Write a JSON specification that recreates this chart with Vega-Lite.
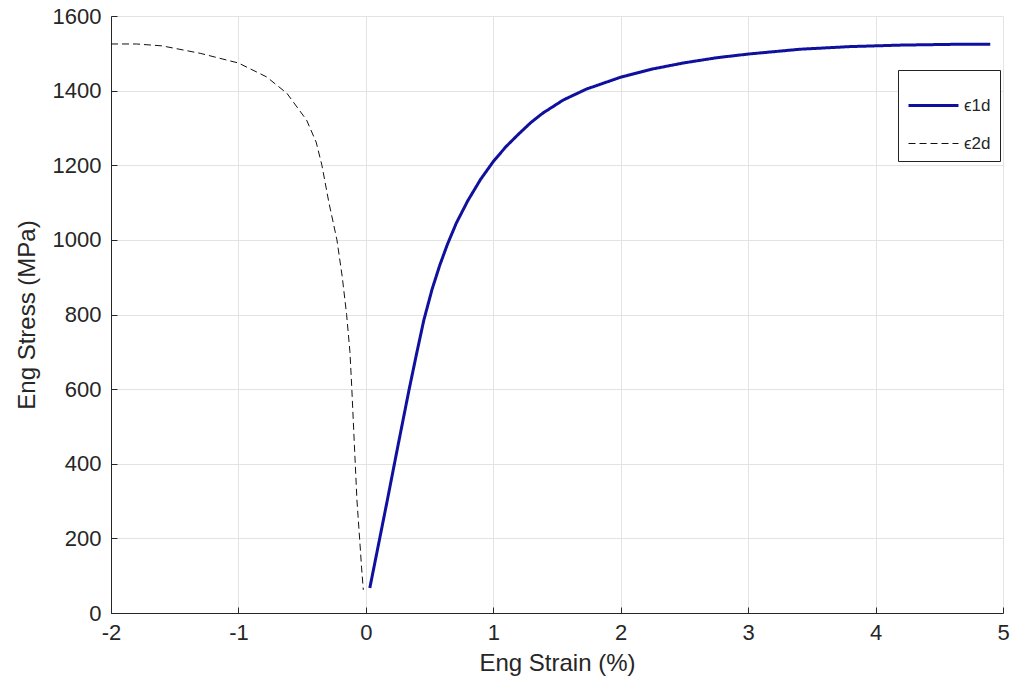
{
  "$schema": "https://vega.github.io/schema/vega-lite/v6.json",
  "width": 892,
  "height": 597,
  "autosize": {"type": "none"},
  "padding": {"left": 111, "top": 16, "right": 11, "bottom": 77},
  "background": "white",
  "config": {
    "view": {"stroke": null},
    "font": "Liberation Sans",
    "axis": {
      "labelFont": "Liberation Sans",
      "titleFont": "Liberation Sans",
      "labelFontSize": 22,
      "titleFontSize": 24,
      "titleFontWeight": "normal",
      "labelColor": "#262626",
      "titleColor": "#262626",
      "domainColor": "#262626",
      "tickColor": "#262626",
      "gridColor": "#e3e3e3",
      "gridWidth": 1,
      "tickSize": -6,
      "domainWidth": 1,
      "labelExpr": "datum.value + ''"
    },
    "legend": {
      "orient": "none", "legendX": 787, "legendY": 54,
      "title": null, "strokeColor": "#222222", "fillColor": "white",
      "padding": 9, "symbolType": "stroke", "symbolSize": 2500,
      "labelFontSize": 17, "labelFont": "Liberation Sans", "labelColor": "#262626",
      "rowPadding": 4, "symbolOffset": 0
    }
  },
  "data": {
    "values": [
      {"s": "\u03f51d", "x": 0.031, "y": 67},
      {"s": "\u03f51d", "x": 0.10, "y": 185},
      {"s": "\u03f51d", "x": 0.17, "y": 305},
      {"s": "\u03f51d", "x": 0.25, "y": 445},
      {"s": "\u03f51d", "x": 0.34, "y": 600},
      {"s": "\u03f51d", "x": 0.40, "y": 698},
      {"s": "\u03f51d", "x": 0.455, "y": 785},
      {"s": "\u03f51d", "x": 0.52, "y": 868},
      {"s": "\u03f51d", "x": 0.58, "y": 932},
      {"s": "\u03f51d", "x": 0.64, "y": 988},
      {"s": "\u03f51d", "x": 0.71, "y": 1045},
      {"s": "\u03f51d", "x": 0.80, "y": 1105},
      {"s": "\u03f51d", "x": 0.90, "y": 1162},
      {"s": "\u03f51d", "x": 1.0, "y": 1210},
      {"s": "\u03f51d", "x": 1.1, "y": 1250},
      {"s": "\u03f51d", "x": 1.2, "y": 1284},
      {"s": "\u03f51d", "x": 1.3, "y": 1316},
      {"s": "\u03f51d", "x": 1.39, "y": 1340},
      {"s": "\u03f51d", "x": 1.55, "y": 1375},
      {"s": "\u03f51d", "x": 1.73, "y": 1404},
      {"s": "\u03f51d", "x": 2.0, "y": 1436},
      {"s": "\u03f51d", "x": 2.25, "y": 1458},
      {"s": "\u03f51d", "x": 2.49, "y": 1474},
      {"s": "\u03f51d", "x": 2.75, "y": 1488},
      {"s": "\u03f51d", "x": 3.0, "y": 1498},
      {"s": "\u03f51d", "x": 3.41, "y": 1511},
      {"s": "\u03f51d", "x": 3.8, "y": 1518},
      {"s": "\u03f51d", "x": 4.2, "y": 1522},
      {"s": "\u03f51d", "x": 4.6, "y": 1524},
      {"s": "\u03f51d", "x": 4.9, "y": 1524},
      {"s": "\u03f52d", "x": -2.0, "y": 1525},
      {"s": "\u03f52d", "x": -1.8, "y": 1525},
      {"s": "\u03f52d", "x": -1.6, "y": 1520},
      {"s": "\u03f52d", "x": -1.3, "y": 1500},
      {"s": "\u03f52d", "x": -1.0, "y": 1474},
      {"s": "\u03f52d", "x": -0.78, "y": 1437},
      {"s": "\u03f52d", "x": -0.62, "y": 1393},
      {"s": "\u03f52d", "x": -0.465, "y": 1321},
      {"s": "\u03f52d", "x": -0.39, "y": 1262},
      {"s": "\u03f52d", "x": -0.345, "y": 1200},
      {"s": "\u03f52d", "x": -0.29, "y": 1100},
      {"s": "\u03f52d", "x": -0.227, "y": 1000},
      {"s": "\u03f52d", "x": -0.185, "y": 900},
      {"s": "\u03f52d", "x": -0.151, "y": 800},
      {"s": "\u03f52d", "x": -0.125, "y": 700},
      {"s": "\u03f52d", "x": -0.11, "y": 600},
      {"s": "\u03f52d", "x": -0.09, "y": 450},
      {"s": "\u03f52d", "x": -0.07, "y": 303},
      {"s": "\u03f52d", "x": -0.045, "y": 180},
      {"s": "\u03f52d", "x": -0.034, "y": 123},
      {"s": "\u03f52d", "x": -0.02, "y": 62}
    ]
  },
  "mark": {"type": "line", "clip": true},
  "encoding": {
    "x": {
      "field": "x", "type": "quantitative",
      "scale": {"domain": [-2, 5], "nice": false, "zero": false},
      "axis": {"values": [-2, -1, 0, 1, 2, 3, 4, 5], "title": "Eng Strain (%)", "labelPadding": 15, "titleY": 38, "labelFlush": false}
    },
    "y": {
      "field": "y", "type": "quantitative",
      "scale": {"domain": [0, 1600], "nice": false},
      "axis": {"values": [0, 200, 400, 600, 800, 1000, 1200, 1400, 1600], "title": "Eng Stress (MPa)", "labelPadding": 16, "titleX": -72, "labelFlush": false}
    },
    "color": {
      "field": "s", "type": "nominal",
      "scale": {"domain": ["\u03f51d", "\u03f52d"], "range": ["#10109e", "#111111"]}
    },
    "strokeDash": {
      "field": "s", "type": "nominal",
      "scale": {"domain": ["\u03f51d", "\u03f52d"], "range": [[1, 0], [7, 4]]}
    },
    "strokeWidth": {
      "field": "s", "type": "nominal",
      "scale": {"domain": ["\u03f51d", "\u03f52d"], "range": [3, 1]}
    }
  }
}
